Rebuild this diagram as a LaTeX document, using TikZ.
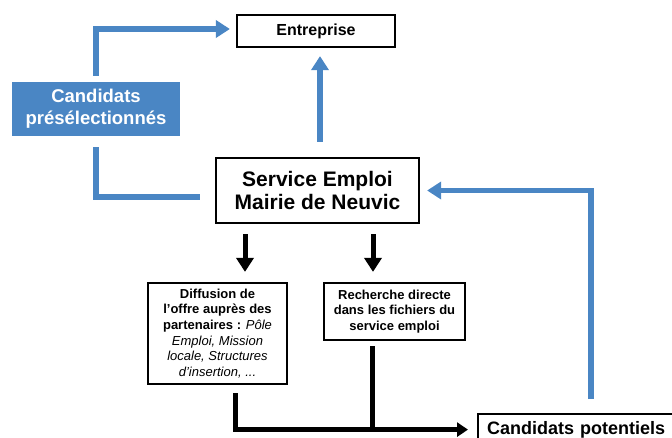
\documentclass[tikz,border=0pt]{standalone}
\usepackage{fontspec}
\setmainfont{Liberation Sans}
\usetikzlibrary{arrows.meta}
\definecolor{lien}{HTML}{4A86C4}
\tikzstyle{boite} = [draw, line width=2.2pt, align=center, inner sep=0pt]
\tikzstyle{bleu} = [draw=lien, line width=5.5pt]
\tikzstyle{noir} = [draw=black, line width=5pt]
\tikzstyle{pointe} = [-{Triangle[length=14pt,width=17pt]}]

\begin{document}
\begin{tikzpicture}[x=1pt,y=-1pt]
	\clip (0,0) rectangle (672,437);
	\node[boite, minimum width=158, minimum height=32, font=\fontsize{16}{19}\selectfont\bfseries] (entr) at (316,31) {Entreprise};
	\node[fill=lien, text=white, align=center, inner sep=0pt, minimum width=168, minimum height=54, font=\fontsize{18.5}{22}\selectfont\bfseries] (presel) at (96,109) {Candidats\\présélectionnés};
	\node[boite, minimum width=203, minimum height=65, font=\fontsize{21}{23.5}\selectfont\bfseries] (serv) at (317.5,190.5) {Service Emploi\\Mairie de Neuvic};
	\node[boite, minimum width=139, minimum height=101, font=\fontsize{13}{15.7}\selectfont\bfseries] (diff) at (217.5,333.5) {Diffusion de\\l’offre auprès des\\partenaires : \textit{\mdseries Pôle}\\\textit{\mdseries Emploi, Mission}\\\textit{\mdseries locale, Structures}\\\textit{\mdseries d’insertion, ...}};
	\node[boite, minimum width=141, minimum height=57, font=\fontsize{13}{15.7}\selectfont\bfseries] (rech) at (394.5,311.5) {Recherche directe\\dans les fichiers du\\service emploi};
	\node[boite, anchor=north west, minimum width=226, minimum height=31, inner xsep=9pt, text width=208, align=left, font=\fontsize{18}{21}\selectfont\bfseries] (pot) at (477,413) {Candidats potentiels};
	% liens bleus
	\draw[bleu, pointe, shorten <=6pt, shorten >=6pt] (presel.north) |- ([yshift=2pt]entr.west);
	\draw[bleu, shorten <=15pt, shorten >=11pt] ([yshift=-6.5pt]serv.west) -| (presel.south);
	\draw[bleu, pointe, shorten <=15pt, shorten >=8pt] ([xshift=2.5pt]serv.north) -- ([xshift=2.5pt]serv.north |- entr.south);
	\draw[bleu, pointe, shorten <=14pt, shorten >=7pt] (pot.north) |- (serv.east);
	% liens noirs
	\draw[noir, pointe, shorten <=10pt, shorten >=10pt] ([xshift=-72.5pt]serv.south) -- ([xshift=-72.5pt]serv.south |- diff.north);
	\draw[noir, pointe, shorten <=10pt, shorten >=10pt] ([xshift=55.5pt]serv.south) -- ([xshift=55.5pt]serv.south |- rech.north);
	\draw[noir, -{Triangle[length=11pt,width=14pt]}, shorten <=8pt, shorten >=9pt] ([xshift=17.5pt]diff.south) |- (pot.west);
	\draw[noir, shorten <=5pt] ([xshift=-22.5pt]rech.south) -- ([xshift=-22.5pt]rech.south |- pot.west);
\end{tikzpicture}
\end{document}
